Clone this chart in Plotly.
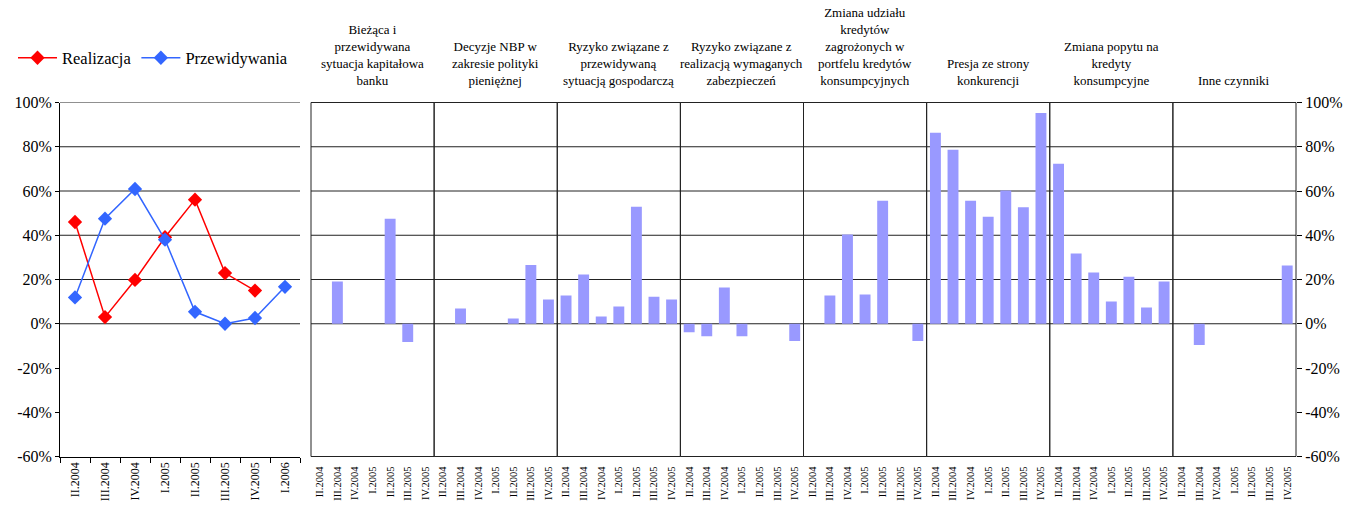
import plotly.graph_objects as go

W, H = 1363, 512
FONT = "Liberation Serif"

# Quarters used on the factor panels and on the line panel
quarters = ["II.2004", "III.2004", "IV.2004", "I.2005", "II.2005", "III.2005", "IV.2005"]
line_quarters = quarters + ["I.2006"]

# Overall change: realised vs expected (%)
realizacja = [46.0, 3.0, 19.8, 39.1, 56.1, 22.9, 15.0, None]
przewidywania = [11.9, 47.5, 60.9, 38.0, 5.4, 0.0, 2.6, 16.7]

# Factor panels (%), one list per factor
kapital = [0, 19.1, 0, 0, 47.5, -8.3, 0]
decyzje_nbp = [0, 6.9, 0, 0, 2.4, 26.6, 11.0]
ryzyko_gosp = [12.8, 22.3, 3.3, 7.8, 52.9, 12.2, 11.0]
ryzyko_zabezp = [-3.8, -5.6, 16.4, -5.6, 0, 0, -7.8]
udzial_zagrozonych = [0, 12.8, 40.3, 13.2, 55.6, 0, -7.8]
konkurencja = [86.3, 78.6, 55.6, 48.4, 60.2, 52.6, 95.3]
popyt = [72.3, 31.7, 23.2, 10.1, 21.2, 7.4, 19.1]
inne = [0, -9.6, 0, 0, 0, 0, 26.3]

factor_titles = [
    "Bieżąca i<br>przewidywana<br>sytuacja kapitałowa<br>banku",
    "Decyzje NBP w<br>zakresie polityki<br>pieniężnej",
    "Ryzyko związane z<br>przewidywaną<br>sytuacją gospodarczą",
    "Ryzyko związane z<br>realizacją wymaganych<br>zabezpieczeń",
    "Zmiana udziału<br>kredytów<br>zagrożonych w<br>portfelu kredytów<br>konsumpcyjnych",
    "Presja ze strony<br>konkurencji",
    "Zmiana popytu na<br>kredyty<br>konsumpcyjne",
    "Inne czynniki",
]
factor_values = [kapital, decyzje_nbp, ryzyko_gosp, ryzyko_zabezp,
                 udzial_zagrozonych, konkurencja, popyt, inne]

y_ticks = [-60, -40, -20, 0, 20, 40, 60, 80, 100]
grid_levels = [0, 20, 40, 60, 80, 100]


def px_x(v):
    return v / W


def px_y(v):
    return 1 - v / H


y_domain = [px_y(456.5), px_y(102.5)]
line_domain = [px_x(60), px_x(300)]
bar_left, bar_right = 311, 1296
n_panels = len(factor_values)
step = (bar_right - bar_left) / n_panels
panel_domains = [[px_x(bar_left + i * step), px_x(bar_left + (i + 1) * step)]
                 for i in range(n_panels)]

fig = go.Figure()

fig.add_trace(go.Scatter(
    x=line_quarters, y=realizacja, name="Realizacja", mode="lines+markers",
    line=dict(color="#FF0000", width=1.5),
    marker=dict(symbol="diamond", size=11, color="#FF0000"),
    xaxis="x", yaxis="y",
))
fig.add_trace(go.Scatter(
    x=line_quarters, y=przewidywania, name="Przewidywania", mode="lines+markers",
    line=dict(color="#3366FF", width=1.5),
    marker=dict(symbol="diamond", size=11, color="#3366FF"),
    xaxis="x", yaxis="y",
))

for i, vals in enumerate(factor_values):
    fig.add_trace(go.Bar(
        x=quarters, y=vals, xaxis=f"x{i + 2}", yaxis="y2",
        marker=dict(color="#9999FF", line=dict(width=0)),
        width=0.62, showlegend=False,
    ))

tick_text = [f"{v}%" for v in y_ticks]
layout = dict(
    width=W, height=H,
    margin=dict(l=0, r=0, t=0, b=0),
    paper_bgcolor="white", plot_bgcolor="white",
    font=dict(family=FONT, color="black"),
    legend=dict(orientation="h", x=px_x(13), xanchor="left", y=px_y(58), yanchor="middle",
                font=dict(family=FONT, size=16.5), bgcolor="rgba(0,0,0,0)",
                borderwidth=0, itemwidth=39, tracegroupgap=0),
    xaxis=dict(domain=line_domain, anchor="y", type="category",
               tickangle=-90, ticks="outside", tickson="boundaries", ticklen=5,
               tickcolor="black", showline=True, linecolor="black", linewidth=1,
               showgrid=False, tickfont=dict(family=FONT, size=12),
               range=[-0.5, 7.5], automargin=False),
    yaxis=dict(domain=y_domain, anchor="x", range=[-60, 100],
               tickvals=y_ticks, ticktext=tick_text, ticks="outside", ticklen=4,
               tickcolor="black", showline=True, linecolor="black", linewidth=1,
               showgrid=False, zeroline=False, tickfont=dict(family=FONT, size=16),
               automargin=False),
    yaxis2=dict(domain=y_domain, anchor=f"x{n_panels + 1}", side="right",
                range=[-60, 100], tickvals=y_ticks, ticktext=tick_text,
                ticks="outside", ticklen=5, tickcolor="black",
                showline=False, showgrid=False, zeroline=False,
                tickfont=dict(family=FONT, size=16), automargin=False),
)
for i in range(n_panels):
    layout[f"xaxis{i + 2}"] = dict(
        domain=panel_domains[i], anchor="y2", type="category",
        range=[-0.5, 6.5], tickangle=-90, ticks="", showline=False,
        showgrid=False, zeroline=False, ticklabelstandoff=7,
        tickfont=dict(family=FONT, size=10.5), automargin=False,
    )
fig.update_layout(**layout)

shapes = []
# horizontal rules at non-negative levels
for v in grid_levels:
    shapes.append(dict(type="line", xref="x domain", x0=0, x1=1, yref="y", y0=v, y1=v,
                       line=dict(color="#222222", width=1), layer="below"))
    shapes.append(dict(type="line", xref="paper", x0=px_x(bar_left), x1=px_x(bar_right),
                       yref="y2", y0=v, y1=v,
                       line=dict(color="#222222", width=1), layer="below"))
# frame around each factor panel
for i in range(n_panels):
    shapes.append(dict(type="rect", xref=f"x{i + 2} domain", x0=0, x1=1,
                       yref="y2 domain", y0=0, y1=1,
                       line=dict(color="#222222", width=1), layer="below"))
fig.update_layout(shapes=shapes)

for i, title in enumerate(factor_titles):
    fig.add_annotation(text=title, xref=f"x{i + 2} domain", x=0.5, xanchor="center",
                       yref="paper", y=px_y(90), yanchor="bottom", showarrow=False,
                       align="center", font=dict(family=FONT, size=13))

fig.write_html("out.html")
